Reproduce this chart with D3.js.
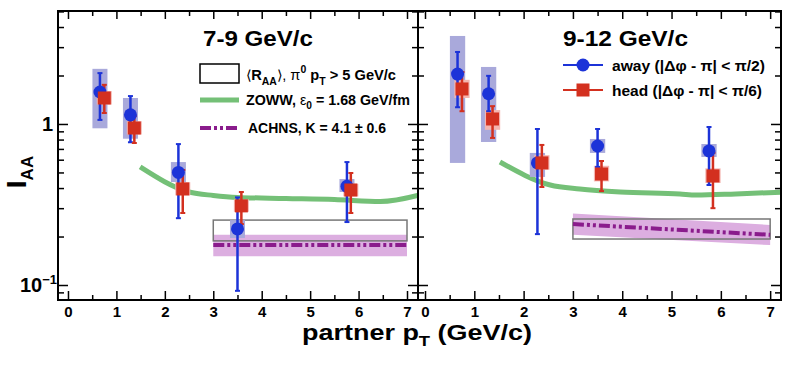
<!DOCTYPE html>
<html>
<head>
<meta charset="utf-8">
<script src="https://cdn.jsdelivr.net/npm/d3@7"></script>
<style>
  body { margin: 0; background: #fff; }
  text { font-family: "Liberation Sans", Arial, Helvetica, sans-serif; font-weight: bold; fill: #000; }
</style>
</head>
<body>
<svg id="chart" width="789" height="369"></svg>
<script>
// ---- data ----
var panelTitles = ["7-9 GeV/c", "9-12 GeV/c"];
var xTicks = [0, 1, 2, 3, 4, 5, 6, 7];
var xMinorTicks = [0.5, 1.5, 2.5, 3.5, 4.5, 5.5, 6.5];

var awayX = [0.66, 1.29, 2.28, 3.50, 5.76];
var headX = [0.75, 1.37, 2.37, 3.58, 5.84];

// 7-9 GeV/c trigger
var away79      = [1.58, 1.14, 0.50, 0.223, 0.41];
var away79Lo    = [1.06, 0.77, 0.26, 0.092, 0.246];
var away79Hi    = [2.07, 1.49, 0.75, 0.35, 0.58];
var away79SysLo = [0.94, 0.81, 0.436, 0.196, 0.378];
var away79SysHi = [2.20, 1.45, 0.58, 0.253, 0.455];
var head79      = [1.45, 0.944, 0.395, 0.31, 0.389];
var head79Lo    = [1.17, 0.762, 0.28, 0.239, 0.28];
var head79Hi    = [1.75, 1.12, 0.518, 0.378, 0.496];
var head79SysLo = [1.32, 0.86, 0.36, 0.285, 0.355];
var head79SysHi = [1.60, 1.04, 0.435, 0.34, 0.425];

// 9-12 GeV/c trigger
var away912      = [2.04, 1.54, 0.573, 0.73, 0.68];
var away912Lo    = [1.27, 1.20, 0.207, 0.541, 0.418];
var away912Hi    = [2.80, 1.99, 0.931, 0.931, 0.958];
var away912SysLo = [0.573, 0.773, 0.469, 0.661, 0.624];
var away912SysHi = [3.52, 2.26, 0.661, 0.807, 0.751];
var head912      = [1.65, 1.074, 0.573, 0.489, 0.476];
var head912Lo    = [1.20, 0.819, 0.406, 0.383, 0.30];
var head912Hi    = [2.10, 1.29, 0.741, 0.589, 0.661];
var head912SysLo = [1.45, 0.92, 0.52, 0.44, 0.43];
var head912SysHi = [1.88, 1.22, 0.64, 0.55, 0.53];

// ZOWW model curves
var zowwX79  = [1.49, 2.5, 3.0, 3.5, 4.5, 5.5, 6.45, 7.3];
var zoww79   = [0.541, 0.378, 0.36, 0.35, 0.345, 0.340, 0.330, 0.365];
var zowwX912 = [1.52, 2.54, 3.14, 3.96, 5.17, 5.5, 6.3, 7.3];
var zoww912  = [0.581, 0.418, 0.395, 0.378, 0.367, 0.362, 0.368, 0.378];

// ACHNS band and <RAA> box
var achnsX     = [3, 7];
var achns79    = [0.177, 0.177];
var achns79Lo  = [0.151, 0.151];
var achns79Hi  = [0.205, 0.205];
var achns912   = [0.239, 0.205];
var achns912Lo = [0.205, 0.177];
var achns912Hi = [0.278, 0.236];
var raaX   = [3, 7];
var raa79  = [0.188, 0.253];
var raa912 = [0.193, 0.257];

// ---- drawing ----
var svg = d3.select("#chart");
var frameTop = 11, frameBottom = 300;
var blue = "#1c33d8", red = "#d3301f", green = "#74c077", purple = "#8a1c8c";

var y = d3.scaleLog().domain([0.0807, 5.03]).range([frameBottom, frameTop]);

var yMajor = [0.1, 1];
var yMinor = [];
[0.01, 0.1, 1].forEach(function(dec) {
  for (var m = 2; m <= 9; m++) {
    var v = m * dec;
    if (v >= 0.0807 && v <= 5.03) yMinor.push(v);
  }
});

var panels = [
  { x0: 58, x1: 418, dom: [-0.206, 7.227], title: panelTitles[0], tx: 203, tw: 110,
    away: away79, awayLo: away79Lo, awayHi: away79Hi, awaySysLo: away79SysLo, awaySysHi: away79SysHi,
    head: head79, headLo: head79Lo, headHi: head79Hi, headSysLo: head79SysLo, headSysHi: head79SysHi,
    zx: zowwX79, zy: zoww79, ach: achns79, achLo: achns79Lo, achHi: achns79Hi, raa: raa79 },
  { x0: 418, x1: 781, dom: [-0.142, 7.22], title: panelTitles[1], tx: 563, tw: 125,
    away: away912, awayLo: away912Lo, awayHi: away912Hi, awaySysLo: away912SysLo, awaySysHi: away912SysHi,
    head: head912, headLo: head912Lo, headHi: head912Hi, headSysLo: head912SysLo, headSysHi: head912SysHi,
    zx: zowwX912, zy: zoww912, ach: achns912, achLo: achns912Lo, achHi: achns912Hi, raa: raa912 }
];

panels.forEach(function(p, pi) {
  var x = d3.scaleLinear().domain(p.dom).range([p.x0, p.x1]);
  var g = svg.append("g");

  g.append("clipPath").attr("id", "clip" + pi)
    .append("rect").attr("x", p.x0).attr("y", frameTop).attr("width", p.x1 - p.x0).attr("height", frameBottom - frameTop);
  var plot = g.append("g").attr("clip-path", "url(#clip" + pi + ")");

  // ACHNS band
  var band = achnsX.map(function(v, i) { return { x: v, lo: p.achLo[i], hi: p.achHi[i] }; });
  plot.append("path").datum(band)
    .attr("d", d3.area().x(function(d) { return x(d.x); }).y0(function(d) { return y(d.lo); }).y1(function(d) { return y(d.hi); }))
    .attr("fill", "#dcaee0");

  // <RAA> box
  plot.append("rect")
    .attr("x", x(raaX[0])).attr("width", x(raaX[1]) - x(raaX[0]))
    .attr("y", y(p.raa[1])).attr("height", y(p.raa[0]) - y(p.raa[1]))
    .attr("fill", "none").attr("stroke", "#777").attr("stroke-width", 1.5);

  // ACHNS line
  plot.append("path").datum(achnsX.map(function(v, i) { return [v, p.ach[i]]; }))
    .attr("d", d3.line().x(function(d) { return x(d[0]); }).y(function(d) { return y(d[1]); }))
    .attr("fill", "none").attr("stroke", purple).attr("stroke-width", 4)
    .attr("stroke-dasharray", "11,3,3,3,3,3");

  // ZOWW curve
  plot.append("path").datum(p.zx.map(function(v, i) { return [v, p.zy[i]]; }))
    .attr("d", d3.line().x(function(d) { return x(d[0]); }).y(function(d) { return y(d[1]); }).curve(d3.curveMonotoneX))
    .attr("fill", "none").attr("stroke", green).attr("stroke-width", 5);

  // systematic boxes
  var half = 0.155;
  plot.selectAll(".asys").data(awayX).enter().append("rect")
    .attr("x", function(d) { return x(d - half); })
    .attr("width", function(d) { return x(d + half) - x(d - half); })
    .attr("y", function(d, i) { return y(p.awaySysHi[i]); })
    .attr("height", function(d, i) { return y(p.awaySysLo[i]) - y(p.awaySysHi[i]); })
    .attr("fill", "#a9a9db");
  plot.selectAll(".hsys").data(headX).enter().append("rect")
    .attr("x", function(d) { return x(d - half); })
    .attr("width", function(d) { return x(d + half) - x(d - half); })
    .attr("y", function(d, i) { return y(p.headSysHi[i]); })
    .attr("height", function(d, i) { return y(p.headSysLo[i]) - y(p.headSysHi[i]); })
    .attr("fill", "#f4b5b0");

  // error bars
  function errBars(xs, lo, hi, col) {
    var eg = plot.append("g").attr("stroke", col).attr("stroke-width", 2.5);
    xs.forEach(function(xv, i) {
      eg.append("line").attr("x1", x(xv)).attr("x2", x(xv)).attr("y1", y(hi[i])).attr("y2", y(lo[i]));
      [hi[i], lo[i]].forEach(function(v) {
        eg.append("line").attr("x1", x(xv) - 2.5).attr("x2", x(xv) + 2.5).attr("y1", y(v)).attr("y2", y(v)).attr("stroke-width", 2);
      });
    });
  }
  errBars(awayX, p.awayLo, p.awayHi, blue);
  errBars(headX, p.headLo, p.headHi, red);

  plot.selectAll(".away").data(awayX).enter().append("circle")
    .attr("cx", function(d) { return x(d); })
    .attr("cy", function(d, i) { return y(p.away[i]); })
    .attr("r", 6.5).attr("fill", blue);
  plot.selectAll(".head").data(headX).enter().append("rect")
    .attr("x", function(d) { return x(d) - 6.5; })
    .attr("y", function(d, i) { return y(p.head[i]) - 6.5; })
    .attr("width", 13).attr("height", 13).attr("fill", red);

  // axes (ticks inside the frame)
  function styleAxis(sel) {
    sel.select(".domain").remove();
    sel.selectAll("line").attr("stroke", "#000").attr("stroke-width", 1.5);
    sel.selectAll("text").attr("font-size", 15).attr("font-weight", "bold")
      .attr("font-family", "Liberation Sans, Arial, sans-serif").attr("fill", "#000");
  }
  g.append("g").attr("transform", "translate(0," + frameBottom + ")")
    .call(d3.axisBottom(x).tickValues(xTicks).tickSize(-9).tickSizeOuter(0).tickPadding(6).tickFormat(d3.format("d")))
    .call(styleAxis);
  g.append("g").attr("transform", "translate(0," + frameBottom + ")")
    .call(d3.axisBottom(x).tickValues(xMinorTicks).tickSize(-5).tickSizeOuter(0).tickFormat(""))
    .call(styleAxis);
  g.append("g").attr("transform", "translate(0," + frameTop + ")")
    .call(d3.axisTop(x).tickValues(xTicks).tickSize(-8).tickSizeOuter(0).tickFormat(""))
    .call(styleAxis);
  g.append("g").attr("transform", "translate(0," + frameTop + ")")
    .call(d3.axisTop(x).tickValues(xMinorTicks).tickSize(-5).tickSizeOuter(0).tickFormat(""))
    .call(styleAxis);
  g.append("g").attr("transform", "translate(" + p.x0 + ",0)")
    .call(d3.axisLeft(y).tickValues(yMajor).tickSize(-10).tickSizeOuter(0).tickFormat(""))
    .call(styleAxis);
  g.append("g").attr("transform", "translate(" + p.x0 + ",0)")
    .call(d3.axisLeft(y).tickValues(yMinor).tickSize(-6).tickSizeOuter(0).tickFormat(""))
    .call(styleAxis);
  g.append("g").attr("transform", "translate(" + p.x1 + ",0)")
    .call(d3.axisRight(y).tickValues(yMajor).tickSize(-10).tickSizeOuter(0).tickFormat(""))
    .call(styleAxis);
  g.append("g").attr("transform", "translate(" + p.x1 + ",0)")
    .call(d3.axisRight(y).tickValues(yMinor).tickSize(-6).tickSizeOuter(0).tickFormat(""))
    .call(styleAxis);

  // frame
  g.append("rect").attr("x", p.x0).attr("y", frameTop).attr("width", p.x1 - p.x0).attr("height", frameBottom - frameTop)
    .attr("fill", "none").attr("stroke", "#000").attr("stroke-width", 2);

  // panel title
  g.append("text").attr("x", p.tx).attr("y", 46).attr("font-size", 22)
    .attr("textLength", p.tw).attr("lengthAdjust", "spacingAndGlyphs").text(p.title);
});

// y tick labels
svg.append("text").attr("x", 53).attr("y", y(1) + 7).attr("text-anchor", "end").attr("font-size", 20).text("1");
var lab = svg.append("text").attr("x", 20).attr("y", y(0.1) + 7).attr("font-size", 20);
lab.append("tspan").text("10");
lab.append("tspan").attr("dy", -8).attr("font-size", 13).text("\u22121");

// y axis title
var yt = svg.append("text").attr("transform", "translate(26,172) rotate(-90)").attr("text-anchor", "middle");
yt.append("tspan").attr("font-size", 28).text("I");
yt.append("tspan").attr("font-size", 17).attr("dy", 7).text("AA");

// x axis title
var xt = svg.append("text").attr("x", 302).attr("y", 340).attr("font-size", 22)
  .attr("textLength", 230).attr("lengthAdjust", "spacingAndGlyphs");
xt.append("tspan").text("partner p");
xt.append("tspan").attr("font-size", 15).attr("dy", 6).text("T");
xt.append("tspan").attr("dy", -6).text(" (GeV/c)");

// legend, left panel
var lg = svg.append("g");
lg.append("rect").attr("x", 200).attr("y", 64).attr("width", 39).attr("height", 19)
  .attr("fill", "none").attr("stroke", "#000").attr("stroke-width", 1.5);
lg.append("line").attr("x1", 200).attr("x2", 239).attr("y1", 100).attr("y2", 100)
  .attr("stroke", green).attr("stroke-width", 5);
lg.append("line").attr("x1", 200).attr("x2", 239).attr("y1", 128).attr("y2", 128)
  .attr("stroke", purple).attr("stroke-width", 4).attr("stroke-dasharray", "11,3,3,3,3,3");

var t1 = lg.append("text").attr("x", 246).attr("y", 80).attr("font-size", 14)
  .attr("textLength", 150).attr("lengthAdjust", "spacingAndGlyphs");
t1.append("tspan").attr("font-weight", "normal").text("\u27E8");
t1.append("tspan").text("R");
t1.append("tspan").attr("font-size", 10).attr("dy", 5).text("AA");
t1.append("tspan").attr("dy", -5).attr("font-weight", "normal").text("\u27E9");
t1.append("tspan").attr("font-weight", "normal").text(", \u03C0");
t1.append("tspan").attr("font-size", 10).attr("dy", -7).text("0");
t1.append("tspan").attr("dy", 7).text(" p");
t1.append("tspan").attr("font-size", 10).attr("dy", 5).text("T");
t1.append("tspan").attr("dy", -5).text(" > 5 GeV/c");

var t2 = lg.append("text").attr("x", 246).attr("y", 105).attr("font-size", 14)
  .attr("textLength", 164).attr("lengthAdjust", "spacingAndGlyphs");
t2.append("tspan").text("ZOWW, ");
t2.append("tspan").attr("font-weight", "normal").text("\u03B5");
t2.append("tspan").attr("font-size", 10).attr("dy", 4).text("0");
t2.append("tspan").attr("dy", -4).text(" = 1.68 GeV/fm");

lg.append("text").attr("x", 248).attr("y", 133).attr("font-size", 14)
  .attr("textLength", 138).attr("lengthAdjust", "spacingAndGlyphs").text("ACHNS, K = 4.1 \u00B1 0.6");

// legend, right panel
var rl = svg.append("g");
rl.append("line").attr("x1", 563).attr("x2", 603).attr("y1", 65).attr("y2", 65).attr("stroke", blue).attr("stroke-width", 2);
rl.append("circle").attr("cx", 583).attr("cy", 65).attr("r", 6.5).attr("fill", blue);
rl.append("line").attr("x1", 563).attr("x2", 603).attr("y1", 90).attr("y2", 90).attr("stroke", red).attr("stroke-width", 2);
rl.append("rect").attr("x", 576.5).attr("y", 83.5).attr("width", 13).attr("height", 13).attr("fill", red);
rl.append("text").attr("x", 612).attr("y", 71).attr("font-size", 15)
  .attr("textLength", 153).attr("lengthAdjust", "spacingAndGlyphs").text("away (|\u0394\u03C6 - \u03C0| < \u03C0/2)");
rl.append("text").attr("x", 612).attr("y", 96).attr("font-size", 15)
  .attr("textLength", 150).attr("lengthAdjust", "spacingAndGlyphs").text("head (|\u0394\u03C6 - \u03C0| < \u03C0/6)");
</script>
</body>
</html>
